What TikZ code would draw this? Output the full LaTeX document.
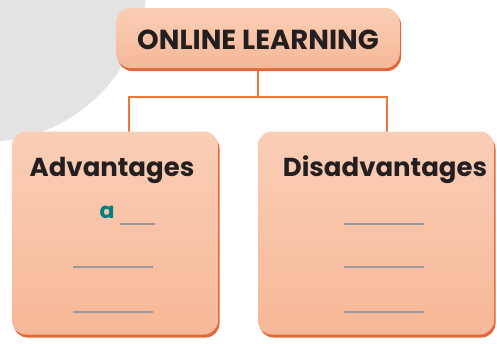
\documentclass[tikz,border=0pt]{standalone}
\usepackage{fontspec}
\setmainfont{Poppins}[BoldFont={Poppins Bold}]
\usetikzlibrary{positioning, shadows, backgrounds}
\definecolor{peachtop}{RGB}{250,206,182}
\definecolor{peachbot}{RGB}{246,184,152}
\definecolor{rimorange}{RGB}{226,104,58}
\definecolor{linkorange}{RGB}{236,120,60}
\definecolor{blankgrey}{RGB}{160,152,150}
\definecolor{answerteal}{RGB}{0,128,124}
\definecolor{inkdark}{RGB}{35,31,32}

\begin{document}
\begin{tikzpicture}[x=1pt, y=-1pt,
  panel/.style={rounded corners=14pt, top color=peachtop, bottom color=peachbot,
    draw=none, drop shadow={shadow xshift=1.5pt, shadow yshift=-3pt, fill=rimorange, opacity=1}},
  heading/.style={font=\bfseries\fontsize{26}{30}\selectfont, text=inkdark},
  link/.style={linkorange, line width=2.8pt},
  blank/.style={blankgrey, line width=1.2pt}
]
  \useasboundingbox (0,0) rectangle (497,343);
  % faint disc in the corner
  \fill[gray!22] (-15,-20) circle (162);

  \node[panel, minimum width=283pt, minimum height=60pt] (top) at (258,38) {};
  \node[heading, font=\bfseries\fontsize{27.5}{30}\selectfont] (title) at (258,40) {ONLINE LEARNING};

  \node[panel, minimum width=206pt, minimum height=203pt] (advbox) at (115,233) {};
  \node[panel, minimum width=236pt, minimum height=203pt] (disbox) at (376,233) {};
  \node[heading] (adv) at (112,170) {Advantages};
  \node[heading] (dis) at (385,170) {Disadvantages};

  \coordinate (fork) at (258,97);
  \coordinate (lj) at (129,131.5);
  \coordinate (rj) at (387,131.5);
  \begin{scope}[on background layer]
    \draw[link] (top.south) -- (fork);
    \draw[link] (lj) -- (lj |- fork) -- (rj |- fork) -- (rj);
  \end{scope}

  % answer blanks
  \node[text=answerteal, font=\bfseries\fontsize{22}{24}\selectfont] (ans) at (107,212) {a};
  \draw[blank] (120,224) -- (155,224);
  \draw[blank] (73,267) -- (153,267);
  \draw[blank] (73,312) -- (153,312);
  \draw[blank] (344,224) -- (424,224);
  \draw[blank] (344,267) -- (424,267);
  \draw[blank] (344,312) -- (424,312);
\end{tikzpicture}
\end{document}
